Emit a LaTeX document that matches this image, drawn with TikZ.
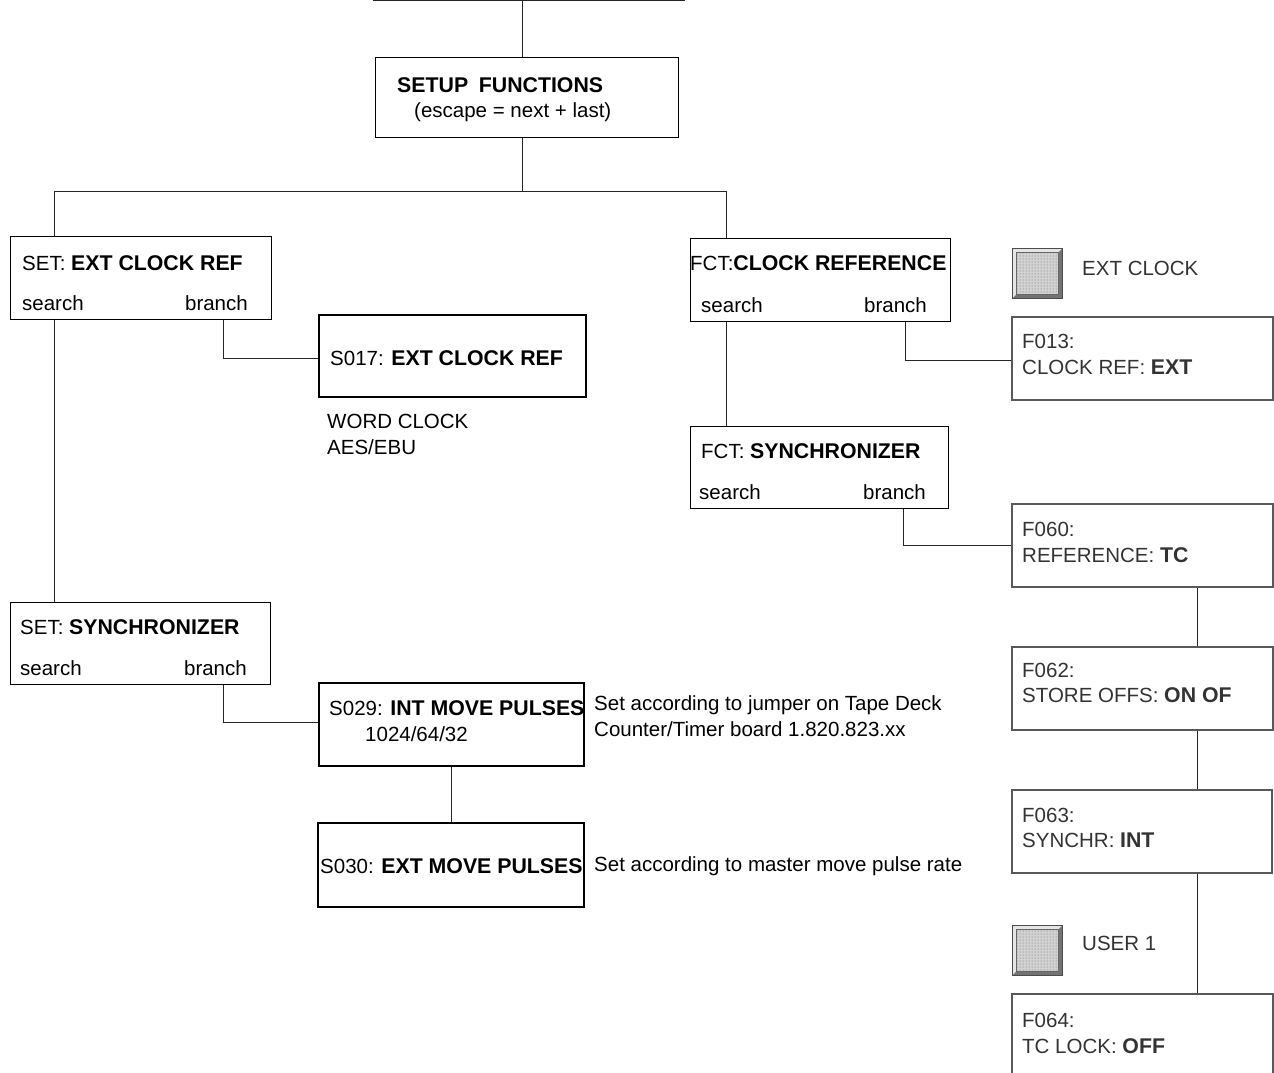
\documentclass[tikz,border=0pt]{standalone}
\usepackage{fontspec}
\setmainfont{Liberation Sans}
\usetikzlibrary{patterns}
\newcommand\myfs{\fontsize{20.5}{26}\selectfont}
\newcommand\bb[1]{{\fontsize{21.3}{26}\selectfont\bfseries #1}}
\begin{document}
\begin{tikzpicture}[x=1pt,y=-1pt,
  thinbox/.style={draw=black, line width=1pt, rectangle, inner sep=0pt, anchor=north west},
  sbox/.style={draw=black, line width=2pt, rectangle, inner sep=0pt, anchor=north west},
  fbox/.style={draw=black!65, line width=1.8pt, rectangle, inner sep=0pt, anchor=north west},
  txt/.style={anchor=base west, inner sep=0pt, font=\myfs},
  rtxt/.style={anchor=base east, inner sep=0pt, font=\myfs},
  gtxt/.style={anchor=base west, inner sep=0pt, font=\myfs, text=black!80},
  link/.style={draw=black!85, line width=0.9pt},
  btn/.style={anchor=north west, minimum size=50pt, inner sep=0pt, draw=black!70, line width=0.8pt, fill=gray!20,
    path picture={
      \fill[black!55] (path picture bounding box.north east) -- (path picture bounding box.south east)
        -- (path picture bounding box.south west) -- ([shift={(4pt,4pt)}]path picture bounding box.south west)
        -- ([shift={(-4pt,4pt)}]path picture bounding box.south east) -- ([shift={(-4pt,-4pt)}]path picture bounding box.north east) -- cycle;
      \fill[gray!35] ([shift={(4pt,4pt)}]path picture bounding box.south west) rectangle ([shift={(-4pt,-4pt)}]path picture bounding box.north east);
      \fill[pattern=dots, pattern color=black!60] ([shift={(4pt,4pt)}]path picture bounding box.south west) rectangle ([shift={(-4pt,-4pt)}]path picture bounding box.north east);
      \draw[black!60, line width=0.5pt] ([shift={(4pt,4pt)}]path picture bounding box.south west) rectangle ([shift={(-4pt,-4pt)}]path picture bounding box.north east);
    }}
]
\useasboundingbox (0,0) rectangle (1274,1072);
\clip (0,0) rectangle (1274,1072);

% ---- boxes ----
\node[thinbox, minimum width=303pt, minimum height=80pt] (setup) at (375,57) {};
\node[thinbox, minimum width=261pt, minimum height=83pt] (setext) at (10,236) {};
\node[sbox, minimum width=267pt, minimum height=82pt] (s017) at (318,314) {};
\node[thinbox, minimum width=260pt, minimum height=82pt] (setsyn) at (10,602) {};
\node[sbox, minimum width=265pt, minimum height=83pt] (s029) at (318,682) {};
\node[sbox, minimum width=266pt, minimum height=84pt] (s030) at (317,822) {};
\node[thinbox, minimum width=260pt, minimum height=83pt] (fctclk) at (690,238) {};
\node[thinbox, minimum width=258pt, minimum height=82pt] (fctsyn) at (690,426) {};
\node[fbox, minimum width=261pt, minimum height=83pt] (f013) at (1011,316) {};
\node[fbox, minimum width=261pt, minimum height=83pt] (f060) at (1011,503) {};
\node[fbox, minimum width=261pt, minimum height=83pt] (f062) at (1011,646) {};
\node[fbox, minimum width=260pt, minimum height=83pt] (f063) at (1011,789) {};
\node[fbox, minimum width=261pt, minimum height=90pt] (f064) at (1011,993) {};
\node[btn] (bext) at (1012,248) {};
\node[btn] (buser) at (1012,925) {};

% ---- texts ----
\node[txt] (tsetup) at (397,92) {\bb{SETUP\hspace{0.5em}FUNCTIONS}};
\node[txt] (tesc) at (414,117) {(escape = next + last)};

\node[txt] (t1) at (22,270) {SET: \bb{EXT CLOCK REF}};
\node[txt] (t1s) at (22,310) {search};
\node[rtxt] (t1b) at (248,310) {branch};

\node[txt] (t2) at (330,365) {S017: \bb{EXT CLOCK REF}};
\node[txt] (t2a) at (327,428) {WORD CLOCK};
\node[txt] (t2b) at (327,454) {AES/EBU};

\node[txt] (t3) at (20,634) {SET: \bb{SYNCHRONIZER}};
\node[txt] (t3s) at (20,675) {search};
\node[rtxt] (t3b) at (247,675) {branch};

\node[txt] (t4) at (329,715) {S029: \bb{INT MOVE PULSES}};
\node[txt] (t4a) at (365,741) {1024/64/32};
\node[txt] (t5) at (320,873) {S030: \bb{EXT MOVE PULSES}};

\node[txt] (n1) at (594,710) {Set according to jumper on Tape Deck};
\node[txt] (n2) at (594,736) {Counter/Timer board 1.820.823.xx};
\node[txt] (n3) at (594,871) {Set according to master move pulse rate};

\node[txt] (t6) at (690,270) {FCT:\bb{CLOCK REFERENCE}};
\node[txt] (t6s) at (701,312) {search};
\node[rtxt] (t6b) at (927,312) {branch};

\node[txt] (t7) at (701,458) {FCT: \bb{SYNCHRONIZER}};
\node[txt] (t7s) at (699,499) {search};
\node[rtxt] (t7b) at (926,499) {branch};

\node[gtxt] (lext) at (1082,275) {EXT CLOCK};
\node[gtxt] (luser) at (1082,950) {USER 1};

\node[gtxt] (f1a) at (1022,348) {F013:};
\node[gtxt] (f1b) at (1022,374) {CLOCK REF: \bb{EXT}};
\node[gtxt] (f2a) at (1022,536) {F060:};
\node[gtxt] (f2b) at (1022,562) {REFERENCE: \bb{TC}};
\node[gtxt] (f3a) at (1022,677) {F062:};
\node[gtxt] (f3b) at (1022,702) {STORE OFFS: \bb{ON OF}};
\node[gtxt] (f4a) at (1022,822) {F063:};
\node[gtxt] (f4b) at (1022,847) {SYNCHR: \bb{INT}};
\node[gtxt] (f5a) at (1022,1027) {F064:};
\node[gtxt] (f5b) at (1022,1053) {TC LOCK: \bb{OFF}};

% ---- connectors ----
\coordinate (topL) at (373,0);
\coordinate (topR) at (685,0);
\coordinate (j0) at (522,0);
\coordinate (j1) at (522,191);
\coordinate (c54) at (54,191);
\coordinate (c726) at (726,191);
\coordinate (b1) at (223,358);
\coordinate (b2) at (223,722);
\coordinate (b3) at (451,0);
\coordinate (b4) at (905,360);
\coordinate (b5) at (903,545);
\coordinate (v1) at (1197,0);

\draw[link] (topL) -- (topR);
\draw[link] (j0) -- (setup.north -| j0);
\draw[link] (setup.south -| j1) -- (j1);
\draw[link] (setext.north -| c54) -- (c54) -- (c726) -- (fctclk.north -| c726);
\draw[link] (setext.south -| c54) -- (setsyn.north -| c54);
\draw[link] (setext.south -| b1) -- (b1) -- (s017.west |- b1);
\draw[link] (setsyn.south -| b2) -- (b2) -- (s029.west |- b2);
\draw[link] (s029.south -| b3) -- (s030.north -| b3);
\draw[link] (fctclk.south -| c726) -- (fctsyn.north -| c726);
\draw[link] (fctclk.south -| b4) -- (b4) -- (f013.west |- b4);
\draw[link] (fctsyn.south -| b5) -- (b5) -- (f060.west |- b5);
\draw[link] (f060.south -| v1) -- (f062.north -| v1);
\draw[link] (f062.south -| v1) -- (f063.north -| v1);
\draw[link] (f063.south -| v1) -- (f064.north -| v1);
\end{tikzpicture}
\end{document}
